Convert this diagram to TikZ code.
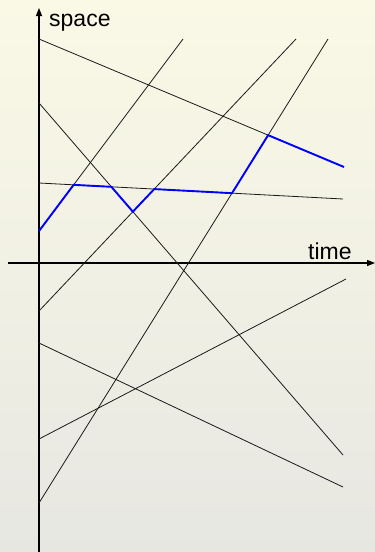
\documentclass[tikz,border=0pt]{standalone}
\usepackage{fontspec}
\setmainfont{Liberation Sans}
\usepackage{tikz}
\usetikzlibrary{arrows.meta}
\definecolor{bgT}{HTML}{FAF9E6}
\definecolor{bgB}{HTML}{E7E7E2}
\definecolor{cB}{HTML}{0000FF}
\definecolor{cK}{HTML}{1A1A1A}
\tikzset{
  axis/.style={-{Triangle[length=8pt,width=6pt]},line width=1.2pt,black},
  wline/.style={line width=0.8pt,cK},
  trail/.style={line width=1.9pt,cB,line join=miter},
  lab/.style={font=\fontsize{23}{23}\selectfont,inner sep=0pt,anchor=base west},
}

\begin{document}
\begin{tikzpicture}[x=1pt,y=-1pt]
  \shade[top color=bgT,bottom color=bgB] (0,0) rectangle (375,552);
  \useasboundingbox (0,0) rectangle (375,552);
  % axes
  \coordinate (xa) at (8,263);
  \coordinate (xb) at (375,263);
  \coordinate (ya) at (39,552);
  \coordinate (yb) at (39,8);
  \draw[axis] (xa) -- (xb);
  \draw[axis] (ya) -- (yb);
  \node[lab] (space) at (49,26) {space};
  \node[lab] (time) at (308,259) {time};
  % world lines
  \foreach \n/\a/\b/\c/\d in {1/39/39/344/167, 2/39/103/343/455,
      3/39/183/343/199, 4/39/231/183/39, 5/39/311/296/39,
      6/39/503/328/39, 7/39/343/343/487, 8/39/439/346/279}{
    \coordinate (s\n) at (\a,\b);
    \coordinate (e\n) at (\c,\d);
    \draw[wline] (s\n) -- (e\n);
  }
  % blue path jumps between lines at crossings
  \coordinate (p1) at (intersection of s4--e4 and s3--e3);
  \coordinate (p2) at (intersection of s3--e3 and s2--e2);
  \coordinate (p3) at (intersection of s2--e2 and s5--e5);
  \coordinate (p4) at (intersection of s5--e5 and s3--e3);
  \coordinate (p5) at (intersection of s3--e3 and s6--e6);
  \coordinate (p6) at (intersection of s6--e6 and s1--e1);
  \draw[trail] (s4) -- (p1) -- (p2) -- (p3) -- (p4) -- (p5) -- (p6) -- (e1);
\end{tikzpicture}
\end{document}
